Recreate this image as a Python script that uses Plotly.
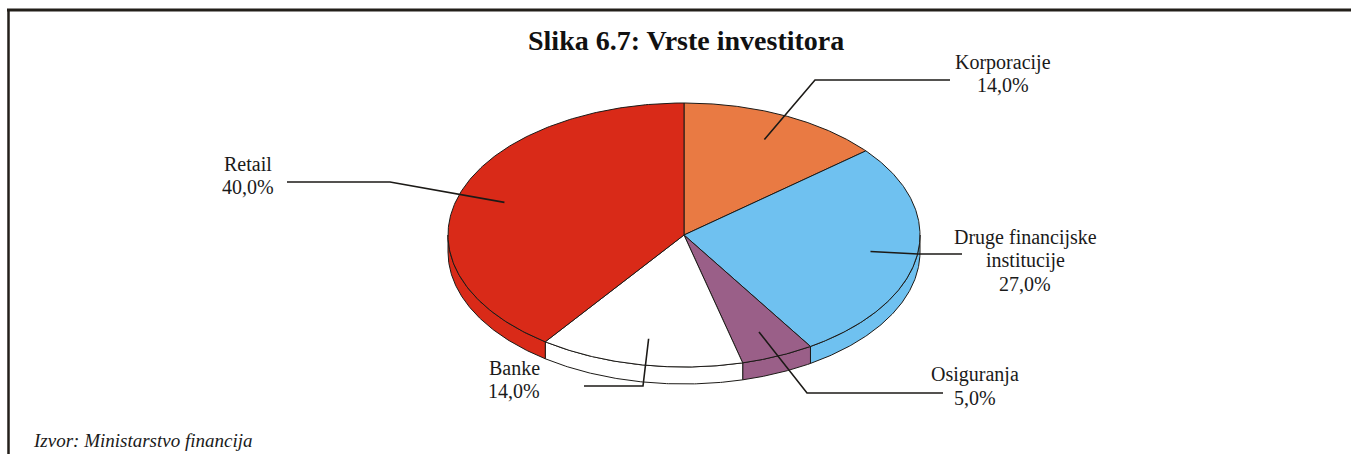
import numpy as np
import plotly.graph_objects as go

# Investor types, clockwise from 12 o'clock
categories = ["Korporacije", "Druge financijske institucije", "Osiguranja", "Banke", "Retail"]
shares = [14.0, 27.0, 5.0, 14.0, 40.0]
colors = ["#E97A43", "#6FC1F0", "#9A5F88", "#FFFFFF", "#D92A18"]

title_text = "Slika 6.7: Vrste investitora"
source_text = "Izvor: Ministarstvo financija"

# Pie geometry in page pixels (tilted disc)
CX, CY = 684.0, 235.0
RX, RY = 236.0, 132.0
DEPTH = 17.0
EDGE = "#1c1a17"
SERIF = "Liberation Serif, Times New Roman, serif"
LABEL_SIZE = 20
LINE_STEP = 23

# Label layout: elbow point, line end, text centre, wrapped name
label_layout = {
    "Korporacije": dict(elbow=(815, 80), end=(950, 80), text=(1003, 73.5), lines=["Korporacije"]),
    "Druge financijske institucije": dict(elbow=(918, 254), end=(962, 254), text=(1025, 260.5),
                                          lines=["Druge financijske", "institucije"]),
    "Osiguranja": dict(elbow=(807, 393), end=(943, 393), text=(975, 386), lines=["Osiguranja"]),
    "Banke": dict(elbow=(643, 386), end=(584, 386), text=(514, 379.5), lines=["Banke"]),
    "Retail": dict(elbow=(390, 182), end=(287, 182), text=(248, 175), lines=["Retail"]),
}


def ell(theta, dy=0.0, r=1.0):
    return CX + r * RX * np.sin(theta), CY - r * RY * np.cos(theta) + dy


total = sum(shares)
bounds = np.concatenate([[0.0], np.cumsum(shares) / total]) * 2 * np.pi

fig = go.Figure()

# Side walls on the front half of the disc
front_lo, front_hi = np.pi / 2, 3 * np.pi / 2
for i, cat in enumerate(categories):
    a, b = max(bounds[i], front_lo), min(bounds[i + 1], front_hi)
    if b <= a:
        continue
    t = np.linspace(a, b, 120)
    xt, yt = ell(t)
    xb, yb = ell(t[::-1], dy=DEPTH)
    xs = np.concatenate([xt, xb, xt[:1]])
    ys = np.concatenate([yt, yb, yt[:1]])
    fig.add_trace(go.Scatter(x=xs, y=ys, mode="lines", fill="toself", fillcolor=colors[i],
                             line=dict(color=EDGE, width=1), hoverinfo="skip", showlegend=False))

# Top faces
for i, cat in enumerate(categories):
    t = np.linspace(bounds[i], bounds[i + 1], 200)
    xa, ya = ell(t)
    xs = np.concatenate([[CX], xa, [CX]])
    ys = np.concatenate([[CY], ya, [CY]])
    fig.add_trace(go.Scatter(x=xs, y=ys, mode="lines", fill="toself", fillcolor=colors[i],
                             line=dict(color=EDGE, width=1), name=cat,
                             hovertemplate=f"{cat}: {shares[i]:.1f}%<extra></extra>", showlegend=False))

# Leader lines and labels
annotations = []
for i, cat in enumerate(categories):
    mid = (bounds[i] + bounds[i + 1]) / 2
    ax, ay = ell(mid, r=0.8)
    lay = label_layout[cat]
    ex, ey = lay["elbow"]
    fx, fy = lay["end"]
    fig.add_trace(go.Scatter(x=[ax, ex, fx], y=[ay, ey, fy], mode="lines",
                             line=dict(color=EDGE, width=1.6), hoverinfo="skip", showlegend=False))
    pct = f"{shares[i]:.1f}".replace(".", ",") + "%"
    lines = lay["lines"] + [pct]
    tx, ty = lay["text"]
    y0 = ty - (len(lines) - 1) * LINE_STEP / 2
    for k, line in enumerate(lines):
        annotations.append(dict(x=tx, y=y0 + k * LINE_STEP, xref="x", yref="y", text=line,
                                showarrow=False, xanchor="center", yanchor="middle",
                                font=dict(family=SERIF, size=LABEL_SIZE, color="#1a1a1a")))

annotations.append(dict(x=686, y=40, xref="x", yref="y", text=f"<b>{title_text}</b>", showarrow=False,
                        xanchor="center", yanchor="middle",
                        font=dict(family=SERIF, size=28, color="#111111")))
annotations.append(dict(x=31, y=440, xref="x", yref="y", text=f"<i>{source_text}</i>", showarrow=False,
                        xanchor="left", yanchor="middle",
                        font=dict(family=SERIF, size=19, color="#1a1a1a")))

# Frame lines (top and left)
shapes = [
    dict(type="line", xref="x", yref="y", x0=7, x1=1351, y0=10, y1=10, line=dict(color="#231f1a", width=3)),
    dict(type="line", xref="x", yref="y", x0=8.5, x1=8.5, y0=10, y1=454, line=dict(color="#231f1a", width=2.5)),
]

fig.update_layout(
    width=1351, height=454, autosize=False,
    margin=dict(l=0, r=0, t=0, b=0),
    paper_bgcolor="white", plot_bgcolor="white",
    xaxis=dict(range=[0, 1351], visible=False, fixedrange=True),
    yaxis=dict(range=[454, 0], visible=False, fixedrange=True),
    annotations=annotations, shapes=shapes,
)

fig.write_html("out.html")
